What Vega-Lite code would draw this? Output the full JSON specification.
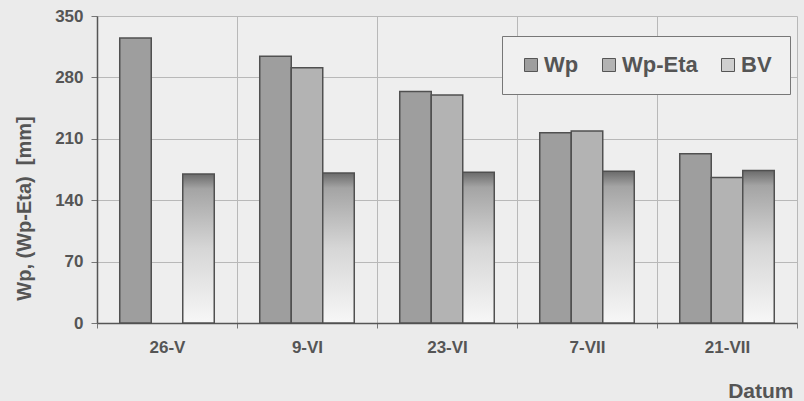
{
  "$schema": "https://vega.github.io/schema/vega-lite/v6.json",
  "width": 700,
  "height": 307,
  "autosize": "none",
  "padding": {"left": 97, "top": 16, "right": 7, "bottom": 78},
  "background": "#ebebeb",
  "config": {
    "view": {"stroke": null, "fill": "#eeeeee"},
    "font": "Liberation Sans"
  },
  "data": {
    "values": [
      {"datum": "26-V", "series": "Wp", "value": 325},
      {"datum": "26-V", "series": "Wp-Eta", "value": null},
      {"datum": "26-V", "series": "BV", "value": 170},
      {"datum": "9-VI", "series": "Wp", "value": 304},
      {"datum": "9-VI", "series": "Wp-Eta", "value": 291},
      {"datum": "9-VI", "series": "BV", "value": 171},
      {"datum": "23-VI", "series": "Wp", "value": 264},
      {"datum": "23-VI", "series": "Wp-Eta", "value": 260},
      {"datum": "23-VI", "series": "BV", "value": 172},
      {"datum": "7-VII", "series": "Wp", "value": 217},
      {"datum": "7-VII", "series": "Wp-Eta", "value": 219},
      {"datum": "7-VII", "series": "BV", "value": 173},
      {"datum": "21-VII", "series": "Wp", "value": 193},
      {"datum": "21-VII", "series": "Wp-Eta", "value": 166},
      {"datum": "21-VII", "series": "BV", "value": 174}
    ]
  },
  "mark": {"type": "bar", "stroke": "#505050", "strokeWidth": 1.5},
  "encoding": {
    "x": {
      "field": "datum", "type": "nominal", "sort": null,
      "scale": {"paddingInner": 0, "paddingOuter": 0},
      "axis": {
        "title": "Datum", "labelAngle": 0, "labelFontSize": 17, "labelFontWeight": "bold",
        "labelColor": "#555555", "labelPadding": 11, "tickBand": "extent",
        "grid": true, "gridColor": "#b8b8b8", "gridWidth": 1,
        "domainColor": "#555555", "domainWidth": 1.5, "tickColor": "#777777", "tickSize": 5,
        "titleFontSize": 21, "titleFontWeight": "bold", "titleColor": "#555555",
        "titleAnchor": "end", "titleAlign": "right", "titleBaseline": "alphabetic", "titleX": 696, "titleY": 74
      }
    },
    "xOffset": {"field": "series", "type": "nominal", "sort": ["Wp", "Wp-Eta", "BV"], "scale": {"paddingInner": 0, "paddingOuter": 0.722}},
    "y": {
      "field": "value", "type": "quantitative",
      "scale": {"domain": [0, 350], "nice": false},
      "axis": {
        "title": "Wp, (Wp-Eta)\u00a0\u00a0[mm]", "values": [0, 70, 140, 210, 280, 350],
        "labelFontSize": 17, "labelFontWeight": "bold", "labelColor": "#555555", "labelPadding": 8,
        "grid": true, "gridColor": "#b8b8b8", "gridWidth": 1,
        "domainColor": "#555555", "domainWidth": 1.5, "tickColor": "#777777", "tickSize": 6,
        "titleFontSize": 20, "titleFontWeight": "bold", "titleColor": "#555555",
        "titleAngle": -90, "titleAlign": "center", "titleBaseline": "middle", "titleX": -73, "titleY": 192
      }
    },
    "color": {
      "condition": {
        "test": "datum.series === 'BV'",
        "value": {"gradient": "linear", "x1": 0, "y1": 0, "x2": 0, "y2": 1,
          "stops": [{"offset": 0, "color": "#6a6a6a"}, {"offset": 0.1, "color": "#a4a4a4"}, {"offset": 0.5, "color": "#d6d6d6"}, {"offset": 1, "color": "#f7f7f7"}]}
      },
      "field": "series", "type": "nominal", "sort": ["Wp", "Wp-Eta", "BV"],
      "scale": {
        "domain": ["Wp", "Wp-Eta", "BV"],
        "range": ["#9e9e9e", "#b3b3b3", "#cfcfcf"]
      },
      "legend": {
        "title": null, "orient": "none", "direction": "horizontal",
        "legendX": 405, "legendY": 20, "padding": 18,
        "strokeColor": "#777777", "fillColor": "#f0f0f0",
        "symbolType": "square", "symbolSize": 169, "symbolStrokeColor": "#555555", "symbolStrokeWidth": 1,
        "labelFontSize": 22, "labelFontWeight": "bold", "labelColor": "#555555",
        "columnPadding": 19, "labelOffset": 2
      }
    }
  }
}
